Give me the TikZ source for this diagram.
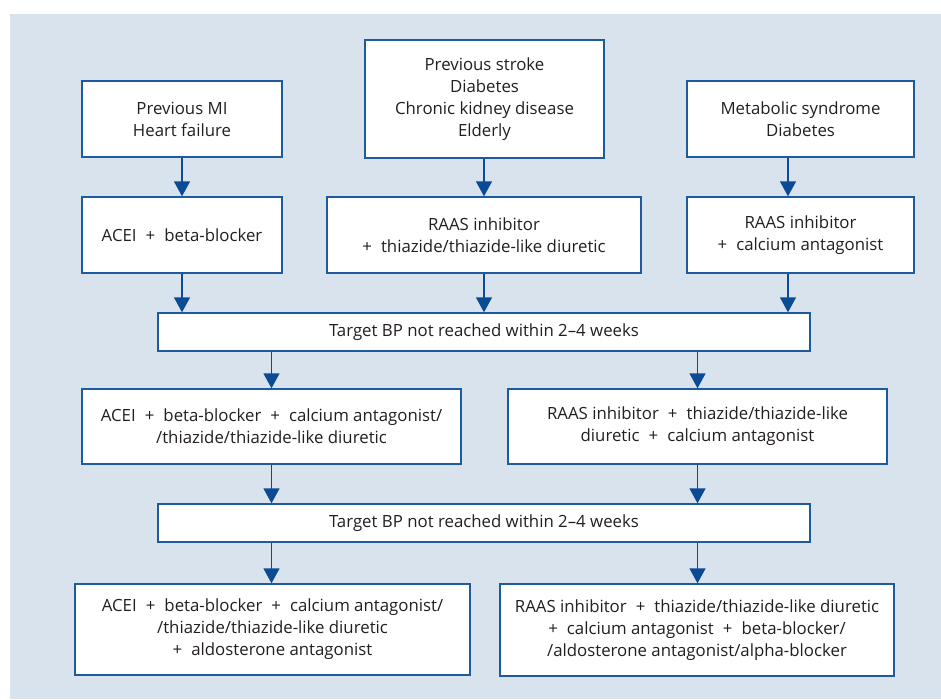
\documentclass[tikz,border=0pt]{standalone}
\usepackage{fontspec}
\setmainfont{Open Sans}
\usetikzlibrary{arrows.meta}
\definecolor{panel}{HTML}{D9E3EE}
\definecolor{bord}{HTML}{1F5A9C}
\definecolor{arrc}{HTML}{0B4A94}
\definecolor{txt}{HTML}{231F20}
\newcommand\pl{\hspace{0.28em}+\hspace{0.28em}\space}
\newcommand\plb{+\hspace{0.28em}\space}
\tikzset{
  x=1pt,y=-1pt,
  box/.style={draw=bord, line width=1.4pt, fill=white, inner sep=0pt, align=center,
    text=txt, font=\fontsize{16.8}{22}\selectfont},
  arr/.style={draw=arrc, line width=1.5pt, -{Triangle[width=16pt,length=15pt]}},
}
\begin{document}
\begin{tikzpicture}
\useasboundingbox (0,0) rectangle (941,699);
\fill[panel] (10,14) rectangle (941,699);
\node[box, minimum width=200pt, minimum height=76pt] (A) at (182,119) {Previous MI\\Heart failure};
\node[box, minimum width=239pt, minimum height=118pt] (B) at (484.5,99) {Previous stroke\\Diabetes\\Chronic kidney disease\\Elderly};
\node[box, minimum width=227pt, minimum height=76pt] (C) at (800.5,119) {Metabolic syndrome\\Diabetes};
\node[box, minimum width=200pt, minimum height=76pt] (D) at (182,235) {ACEI \pl beta-blocker};
\node[box, minimum width=314pt, minimum height=76pt] (E) at (484,235) {RAAS inhibitor\\\plb thiazide/thiazide-like diuretic};
\node[box, minimum width=227pt, minimum height=76pt] (F) at (800.5,235) {RAAS inhibitor\\\plb calcium antagonist};
\node[box, minimum width=652pt, minimum height=38pt] (G) at (484,332) {Target BP not reached within 2--4 weeks};
\node[box, minimum width=379pt, minimum height=75pt] (H) at (271.5,426.5) {ACEI \pl beta-blocker \pl calcium antagonist/\\/thiazide/thiazide-like diuretic};
\node[box, minimum width=379pt, minimum height=75pt] (I) at (697.5,426.5) {RAAS inhibitor \pl thiazide/thiazide-like\\diuretic \pl calcium antagonist};
\node[box, minimum width=652pt, minimum height=38pt] (J) at (484,523) {Target BP not reached within 2--4 weeks};
\node[box, minimum width=395pt, minimum height=91pt] (K) at (272.5,629.5) {ACEI \pl beta-blocker \pl calcium antagonist/\\/thiazide/thiazide-like diuretic\\\plb aldosterone antagonist};
\node[box, minimum width=394pt, minimum height=92pt] (L) at (697,630) {RAAS inhibitor \pl thiazide/thiazide-like diuretic\\\plb calcium antagonist \pl beta-blocker/\\/aldosterone antagonist/alpha-blocker};
\draw[arr] (A.south) -- (D.north);
\draw[arr] (B.south -| E.north) -- (E.north);
\draw[arr] ([xshift=-12.5pt]C.south) -- ([xshift=-12.5pt]F.north);
\draw[arr] (D.south) -- (D.south |- G.north);
\draw[arr] (E.south) -- (E.south |- G.north);
\draw[arr] ([xshift=-12.5pt]F.south) -- ([xshift=-12.5pt]F.south |- G.north);
\draw[arr] (G.south -| H.north) -- (H.north);
\draw[arr] (G.south -| I.north) -- (I.north);
\draw[arr] (H.south) -- (H.south |- J.north);
\draw[arr] (I.south) -- (I.south |- J.north);
\draw[arr] (H.south |- J.south) -- (H.south |- K.north);
\draw[arr] (I.south |- J.south) -- (I.south |- L.north);
\end{tikzpicture}
\end{document}
